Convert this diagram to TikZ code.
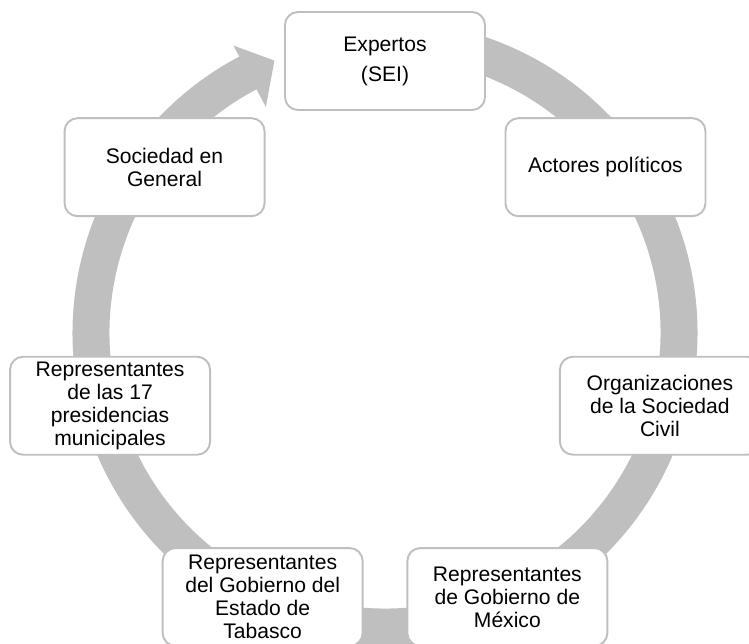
\documentclass[tikz,border=0pt]{standalone}
\usepackage{fontspec}
\setmainfont{Liberation Sans}
\usetikzlibrary{calc}
\definecolor{anillo}{HTML}{BFBFBF}
\definecolor{borde}{HTML}{BFBFBF}

\begin{document}
\begin{tikzpicture}[caja/.style={draw=borde, line width=1.1pt, fill=white, rounded corners=0.26cm, minimum width=4cm, minimum height=1.96cm, align=center, inner sep=2pt, font=\fontsize{12}{13}\selectfont}]
    \clip (0,0) rectangle (14.98,12.86);
    \coordinate (centro) at (7.70,6.00);
    \coordinate (aro) at (7.70,6.20);

    % Flecha circular de fondo
    \fill[anillo, shift={(aro)}] (85:6.25) arc[start angle=85, end angle=-242.2, radius=6.25]
        -- (-242.2:6.5) -- (-247.9:5.88) -- (-242.2:5.11) -- (-242.2:5.51)
        arc[start angle=-242.2, end angle=85, radius=5.51] -- cycle;

    % Participantes
    \node[caja] (expertos) at ($(centro)+(90:5.64)$) {Expertos\\[4pt](SEI)};
    \node[caja] (actores) at ($(centro)+(38.571:5.64)$) {Actores pol\'iticos};
    \node[caja] (osc) at ($(centro)+(-12.857:5.64)$) {Organizaciones\\de la Sociedad\\Civil};
    \node[caja] (gobmex) at ($(centro)+(-64.286:5.64)$) {Representantes\\de Gobierno de\\M\'exico};
    \node[caja] (gobtab) at ($(centro)+(-115.714:5.64)$) {Representantes\\del Gobierno del\\Estado de\\Tabasco};
    \node[caja] (municipios) at ($(centro)+(-167.143:5.64)$) {Representantes\\de las 17\\presidencias\\municipales};
    \node[caja] (sociedad) at ($(centro)+(141.429:5.64)$) {Sociedad en\\General};
\end{tikzpicture}
\end{document}
